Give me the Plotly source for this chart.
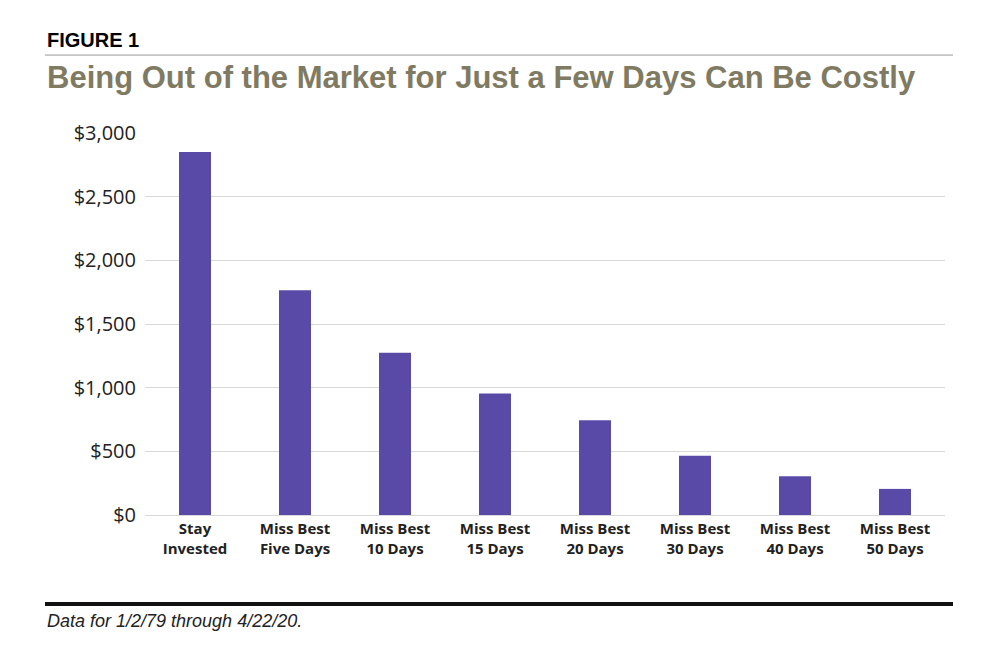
import plotly.graph_objects as go

categories = ["Stay<br>Invested", "Miss Best<br>Five Days", "Miss Best<br>10 Days", "Miss Best<br>15 Days",
              "Miss Best<br>20 Days", "Miss Best<br>30 Days", "Miss Best<br>40 Days", "Miss Best<br>50 Days"]
values = [2850, 1765, 1275, 955, 745, 465, 305, 205]
y_ticks = [0, 500, 1000, 1500, 2000, 2500, 3000]
y_labels = ["$0", "$500", "$1,000", "$1,500", "$2,000", "$2,500", "$3,000"]

fig = go.Figure(go.Bar(x=categories, y=values, width=0.32, marker=dict(color="#5a4aa8", line=dict(width=0))))

fig.update_layout(
    width=1000, height=662, plot_bgcolor="white", paper_bgcolor="white",
    margin=dict(l=137, r=63, t=125, b=155), showlegend=False,
    font=dict(family="Open Sans", color="#222222"),
)
fig.update_yaxes(range=[0, 3000], tickvals=y_ticks, ticktext=y_labels, showgrid=True,
                 gridcolor="#d9d9d9", tickfont=dict(size=20, color="#222222"), zeroline=False,
                 showline=False, ticks="", ticklabelstandoff=8)
fig.update_xaxes(showline=True, linecolor="#d9d9d9", tickfont=dict(size=15, color="#222222", family="Open Sans"),
                 ticks="")
fig.update_xaxes(tickvals=categories, ticktext=["<b>" + c.replace("<br>", "</b><br><b>") + "</b>" for c in categories])

fig.add_annotation(text="<b>FIGURE 1</b>", xref="paper", yref="paper", x=-0.125, y=1.243, xanchor="left",
                   yanchor="middle", showarrow=False, font=dict(family="Liberation Sans", size=20, color="black"))
fig.add_annotation(text="<b>Being Out of the Market for Just a Few Days Can Be Costly</b>", xref="paper", yref="paper",
                   x=-0.125, y=1.144, xanchor="left", yanchor="middle", showarrow=False,
                   font=dict(family="Liberation Sans", size=31, color="#7f7b63"))
fig.add_annotation(text="<i>Data for 1/2/79 through 4/22/20.</i>", xref="paper", yref="paper",
                   x=-0.125, y=-0.277, xanchor="left", yanchor="middle", showarrow=False,
                   font=dict(family="Liberation Sans", size=18, color="#222222"))
fig.add_shape(type="line", xref="paper", yref="paper", x0=-0.125, x1=1.01, y0=1.204, y1=1.204,
              line=dict(color="#999999", width=1))
fig.add_shape(type="line", xref="paper", yref="paper", x0=-0.125, x1=1.01, y0=-0.233, y1=-0.233,
              line=dict(color="#111111", width=4))

fig.write_html("out.html")
